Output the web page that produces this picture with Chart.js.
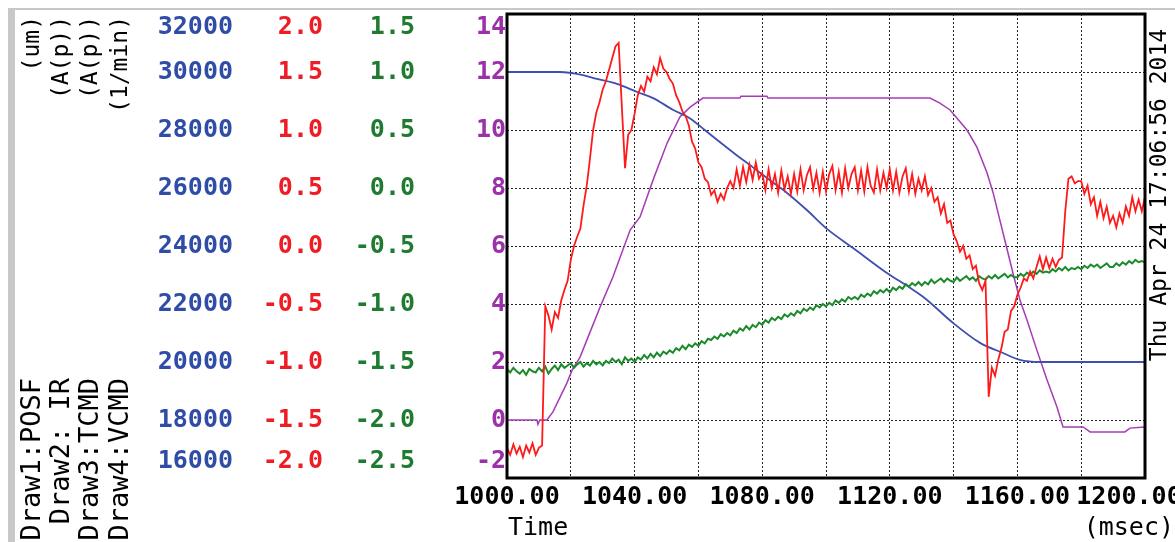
<!DOCTYPE html>
<html>
<head>
<meta charset="utf-8">
<script src="https://cdn.jsdelivr.net/npm/chart.js@4.4.1/dist/chart.umd.min.js"></script>
<style>
  body { margin: 0; background: #fff; }
  canvas { display: block; }
</style>
</head>
<body>
<canvas id="canvas1" width="1175" height="542"></canvas>
<script>
// sample times (msec) for the IR and TCMD traces
var timeMs = [
  1000,1001,1002,1003,1004,1005,1006,1007,1008,1009,
  1010,1011,1012,1013,1014,1015,1016,1017,1018,1019,
  1020,1021,1022,1023,1024,1025,1026,1027,1028,1029,
  1030,1031,1032,1033,1034,1035,1036,1037,1038,1039,
  1040,1041,1042,1043,1044,1045,1046,1047,1048,1049,
  1050,1051,1052,1053,1054,1055,1056,1057,1058,1059,
  1060,1061,1062,1063,1064,1065,1066,1067,1068,1069,
  1070,1071,1072,1073,1074,1075,1076,1077,1078,1079,
  1080,1081,1082,1083,1084,1085,1086,1087,1088,1089,
  1090,1091,1092,1093,1094,1095,1096,1097,1098,1099,
  1100,1101,1102,1103,1104,1105,1106,1107,1108,1109,
  1110,1111,1112,1113,1114,1115,1116,1117,1118,1119,
  1120,1121,1122,1123,1124,1125,1126,1127,1128,1129,
  1130,1131,1132,1133,1134,1135,1136,1137,1138,1139,
  1140,1141,1142,1143,1144,1145,1146,1147,1148,1149,
  1150,1151,1152,1153,1154,1155,1156,1157,1158,1159,
  1160,1161,1162,1163,1164,1165,1166,1167,1168,1169,
  1170,1171,1172,1173,1174,1175,1176,1177,1178,1179,
  1180,1181,1182,1183,1184,1185,1186,1187,1188,1189,
  1190,1191,1192,1193,1194,1195,1196,1197,1198,1199,
  1200
];

// Draw2: IR  (A(p))
var irValues = [
  -1.74,-1.80,-1.71,-1.79,-1.73,-1.82,-1.72,-1.78,-1.70,-1.80,
  -1.74,-1.72,-0.52,-0.60,-0.72,-0.57,-0.62,-0.47,-0.38,-0.30,
  -0.12,0.00,0.08,0.15,0.35,0.52,0.75,1.00,1.15,1.24,
  1.35,1.42,1.52,1.62,1.72,1.75,1.20,0.67,0.96,1.00,
  1.14,1.30,1.38,1.33,1.46,1.42,1.54,1.48,1.62,1.53,
  1.50,1.44,1.40,1.30,1.24,1.16,1.12,1.04,0.90,0.84,
  0.72,0.68,0.58,0.55,0.44,0.48,0.38,0.45,0.40,0.50,
  0.56,0.50,0.66,0.52,0.68,0.55,0.70,0.57,0.72,0.58,
  0.63,0.48,0.66,0.50,0.62,0.46,0.65,0.49,0.60,0.45,
  0.62,0.47,0.66,0.48,0.61,0.68,0.49,0.63,0.46,0.64,
  0.47,0.62,0.69,0.48,0.64,0.46,0.67,0.50,0.62,0.68,
  0.48,0.65,0.47,0.68,0.52,0.46,0.66,0.48,0.63,0.50,
  0.66,0.48,0.64,0.46,0.60,0.67,0.47,0.62,0.45,0.58,
  0.48,0.60,0.44,0.50,0.38,0.42,0.28,0.36,0.20,0.22,
  0.10,0.04,-0.05,0.00,-0.11,-0.08,-0.20,-0.17,-0.32,-0.38,
  -0.30,-1.30,-1.05,-1.12,-0.98,-0.88,-0.74,-0.72,-0.56,-0.52,
  -0.42,-0.36,-0.28,-0.30,-0.22,-0.28,-0.18,-0.09,-0.20,-0.10,
  -0.19,-0.11,-0.18,-0.12,-0.10,0.30,0.58,0.60,0.54,0.56,
  0.56,0.45,0.52,0.36,0.42,0.26,0.38,0.24,0.34,0.20,
  0.26,0.16,0.28,0.20,0.34,0.26,0.42,0.30,0.40,0.30,
  0.42
];

// Draw3: TCMD  (A(p))
var tcmdValues = [
  -1.56,-1.59,-1.55,-1.58,-1.60,-1.57,-1.61,-1.56,-1.58,-1.59,
  -1.55,-1.58,-1.54,-1.60,-1.56,-1.53,-1.57,-1.52,-1.55,-1.53,
  -1.51,-1.55,-1.52,-1.50,-1.54,-1.51,-1.53,-1.49,-1.52,-1.50,
  -1.53,-1.49,-1.51,-1.47,-1.50,-1.48,-1.52,-1.46,-1.49,-1.47,
  -1.50,-1.46,-1.48,-1.44,-1.47,-1.43,-1.46,-1.42,-1.45,-1.41,
  -1.43,-1.40,-1.42,-1.38,-1.40,-1.36,-1.39,-1.35,-1.37,-1.34,
  -1.36,-1.32,-1.34,-1.30,-1.31,-1.28,-1.30,-1.26,-1.28,-1.25,
  -1.27,-1.23,-1.25,-1.21,-1.23,-1.19,-1.22,-1.18,-1.20,-1.16,
  -1.18,-1.14,-1.16,-1.12,-1.14,-1.11,-1.13,-1.09,-1.11,-1.08,
  -1.10,-1.06,-1.08,-1.04,-1.06,-1.03,-1.05,-1.01,-1.03,-1.00,
  -1.02,-0.99,-1.01,-0.97,-0.99,-0.96,-0.98,-0.94,-0.96,-0.94,
  -0.96,-0.92,-0.94,-0.91,-0.93,-0.89,-0.91,-0.88,-0.90,-0.87,
  -0.90,-0.86,-0.88,-0.85,-0.87,-0.83,-0.85,-0.82,-0.84,-0.81,
  -0.84,-0.81,-0.83,-0.79,-0.82,-0.80,-0.78,-0.81,-0.78,-0.80,
  -0.81,-0.77,-0.80,-0.78,-0.76,-0.79,-0.77,-0.80,-0.76,-0.78,
  -0.79,-0.76,-0.78,-0.75,-0.78,-0.76,-0.74,-0.77,-0.75,-0.77,
  -0.77,-0.74,-0.76,-0.73,-0.75,-0.72,-0.74,-0.71,-0.73,-0.72,
  -0.73,-0.70,-0.72,-0.69,-0.71,-0.68,-0.71,-0.69,-0.70,-0.68,
  -0.70,-0.67,-0.69,-0.66,-0.68,-0.66,-0.69,-0.67,-0.65,-0.68,
  -0.68,-0.65,-0.67,-0.64,-0.66,-0.63,-0.65,-0.62,-0.64,-0.63,
  -0.64
];

// Draw1: POSF  (um)
var posfTime = [1000,1016.6,1023.5,1028.2,1034.5,1040.8,1045.8,1052.0,1057.4,1062.0,1067.0,1072.0,1077.0,1082.0,1087.8,1094.0,1100.3,1108.5,1119.1,1126.3,1131.0,1139.8,1148.3,1155.5,1160.8,1167.1,1200];
var posfValues = [30000,30000,29900,29760,29590,29310,29100,28700,28400,28000,27560,27130,26720,26300,25830,25240,24590,23930,23070,22560,22200,21350,20660,20310,20070,20000,20000];

// Draw4: VCMD  (1/min)
var vcmdTime = [1000,1009.4,1009.7,1010.3,1012.5,1014.4,1018.8,1020.4,1022.9,1029.2,1033.2,1038.6,1041.7,1045.8,1050.2,1054.2,1057.4,1061.4,1073.0,1073.3,1081.5,1081.8,1132.6,1135.7,1138.9,1144.2,1147.3,1150.5,1152.4,1155.5,1158.6,1160.8,1163.0,1166.1,1169.3,1172.4,1174.3,1180.6,1182.8,1193.7,1195.3,1200];
var vcmdValues = [0,0,-0.15,0,0,0.28,1.28,1.72,2.17,3.90,4.93,6.55,7.00,8.28,9.55,10.45,10.79,11.10,11.10,11.16,11.16,11.10,11.10,10.93,10.69,10.00,9.41,8.52,7.83,6.45,5.07,4.14,3.45,2.41,1.38,0.45,-0.24,-0.24,-0.41,-0.41,-0.28,-0.24];

// tick labels
var posfTicks = [32000,30000,28000,26000,24000,22000,20000,18000,16000];
var irTicks = [2.0,1.5,1.0,0.5,0.0,-0.5,-1.0,-1.5,-2.0];
var tcmdTicks = [1.5,1.0,0.5,0.0,-0.5,-1.0,-1.5,-2.0,-2.5];
var vcmdTicks = [14,12,10,8,6,4,2,0,-2];
var timeTicks = [1000,1040,1080,1120,1160,1200];

var drawNames = ["Draw1:POSF", "Draw2: IR", "Draw3:TCMD", "Draw4:VCMD"];
var drawUnits = ["(um)", "(A(p))", "(A(p))", "(1/min)"];
var stampText = "Thu Apr 24 17:06:56 2014";

function pairs(xs, ys) {
    return xs.map(function(x, i){ return {x: x, y: ys[i]}; });
}

var MONO = "'DejaVu Sans Mono', 'Liberation Mono', monospace";

function vtext(ctx, text, x, y, align) {
    ctx.save();
    ctx.translate(x, y);
    ctx.rotate(-Math.PI / 2);
    ctx.textAlign = align;
    ctx.textBaseline = 'middle';
    ctx.fillText(text, 0, 0);
    ctx.restore();
}

var scopePlugin = {
    id: 'scope',
    beforeDraw: function(chart) {
        var ctx = chart.ctx;
        ctx.save();
        ctx.fillStyle = '#ffffff';
        ctx.fillRect(0, 0, chart.width, chart.height);
        ctx.fillStyle = '#c8c8c8';
        ctx.fillRect(8, 8, chart.width - 8, 2);
        ctx.fillRect(8, 8, 7, chart.height - 8);
        ctx.restore();
    },
    afterDraw: function(chart) {
        var ctx = chart.ctx;
        var a = chart.chartArea;
        ctx.save();
        // frame
        ctx.strokeStyle = '#000';
        ctx.lineWidth = 3;
        ctx.strokeRect(a.left, a.top, a.right - a.left, a.bottom - a.top);

        // y tick labels, one column per trace
        var cols = [
            {id: 'yPosf', ticks: posfTicks, x: 233, color: '#2f4ca6', dec: 0},
            {id: 'yIr', ticks: irTicks, x: 323, color: '#ee1c24', dec: 1},
            {id: 'yTcmd', ticks: tcmdTicks, x: 415, color: '#1e7b30', dec: 1},
            {id: 'yVcmd', ticks: vcmdTicks, x: 506, color: '#9b30a8', dec: 0}
        ];
        ctx.font = 'bold 25px ' + MONO;
        ctx.textAlign = 'right';
        ctx.textBaseline = 'middle';
        cols.forEach(function(c) {
            var sc = chart.scales[c.id];
            ctx.fillStyle = c.color;
            c.ticks.forEach(function(v) {
                var y = sc.getPixelForValue(v);
                if (v === sc.max) y += 13;
                if (v === sc.min) y -= 17;
                ctx.fillText(v.toFixed(c.dec), c.x, y);
            });
        });

        // x tick labels (last one pulled in against the previous one)
        var xs = chart.scales.x;
        ctx.fillStyle = '#000';
        ctx.textAlign = 'center';
        timeTicks.forEach(function(v, i) {
            var px = xs.getPixelForValue(v);
            if (i === timeTicks.length - 1) px -= 16;
            ctx.fillText(v.toFixed(2), px, 497);
        });
        ctx.font = '25px ' + MONO;
        ctx.textAlign = 'left';
        ctx.fillText('Time', 508, 528);
        ctx.textAlign = 'right';
        ctx.fillText('(msec)', 1174, 528);

        // rotated texts
        ctx.font = '23px ' + MONO;
        vtext(ctx, stampText, 1160, 195, 'center');
        var colX = [33, 62, 91, 121];
        drawUnits.forEach(function(t, i){ vtext(ctx, t, colX[i], 16, 'right'); });
        ctx.font = '27px ' + MONO;
        drawNames.forEach(function(t, i){ vtext(ctx, t, colX[i], 378, 'right'); });
        ctx.restore();
    }
};

new Chart(document.getElementById('canvas1'), {
    type: 'line',
    data: {
        datasets: [
            {label: 'IR', data: pairs(timeMs, irValues), yAxisID: 'yIr',
             borderColor: '#ff1a1a', borderWidth: 1.8},
            {label: 'TCMD', data: pairs(timeMs, tcmdValues), yAxisID: 'yTcmd',
             borderColor: '#1a8a2a', borderWidth: 2},
            {label: 'POSF', data: pairs(posfTime, posfValues), yAxisID: 'yPosf',
             borderColor: '#3f4fb0', borderWidth: 1.8, cubicInterpolationMode: 'monotone'},
            {label: 'VCMD', data: pairs(vcmdTime, vcmdValues), yAxisID: 'yVcmd',
             borderColor: '#a53cb5', borderWidth: 1.5}
        ]
    },
    options: {
        responsive: false,
        animation: false,
        elements: { point: { radius: 0 }, line: { tension: 0, fill: false } },
        layout: { padding: { left: 507, right: 30, top: 14, bottom: 64 } },
        plugins: { legend: { display: false }, tooltip: { enabled: false } },
        scales: {
            x: {
                type: 'linear', min: 1000, max: 1200,
                ticks: { display: false, stepSize: 20 },
                grid: { color: '#222', lineWidth: 1, drawTicks: false },
                border: { display: false, dash: [2, 2] }
            },
            yVcmd: {
                type: 'linear', position: 'left', min: -2, max: 14,
                ticks: { display: false, stepSize: 2 },
                grid: { color: '#222', lineWidth: 1, drawTicks: false },
                border: { display: false, dash: [2, 2] }
            },
            yPosf: { type: 'linear', display: false, min: 16000, max: 32000 },
            yIr: { type: 'linear', display: false, min: -2, max: 2 },
            yTcmd: { type: 'linear', display: false, min: -2.5, max: 1.5 }
        }
    },
    plugins: [scopePlugin]
});
</script>
</body>
</html>
